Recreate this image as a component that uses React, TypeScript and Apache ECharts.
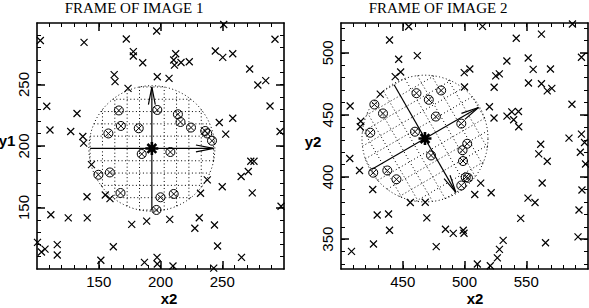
import React, { useEffect, useRef } from "react";
import * as echarts from "echarts";

// ---------------- data ----------------
const xRange1 = [100, 300];
const yRange1 = [100, 300];
const xRange2 = [400, 600];
const yRange2 = [326, 524];
const xMajor1 = [150, 200, 250];
const yMajor1 = [150, 200, 250];
const xMajor2 = [450, 500, 550];
const yMajor2 = [350, 400, 450, 500];
const minorStep = 10;

const titles = ["FRAME OF IMAGE 1", "FRAME OF IMAGE 2"];
const xNames = ["x2", "x2"];
const yNames = ["y1", "y2"];

const centre1 = [193, 198];
const centre2 = [468, 431];
const apertureRadius = 51;
const arrowHalfLength = 50;
const gridStep = 10;
const arrowAngles1 = [0, 90];
const arrowAngles2 = [30, -60];

const crosses1 = [
  [102.7, 285.8], [138.1, 284.3], [172.3, 287], [196.9, 293.5], [251.2, 298.8], [292.7, 286.8],
  [178, 276.7], [178, 273.2], [185.6, 267.7], [212.3, 275], [210.7, 269.9], [211.3, 265.7],
  [216.6, 267.9], [223.3, 268.5], [244.4, 277.2], [250.4, 272], [258.5, 275], [272.2, 262.6],
  [278.8, 249.6], [285.2, 253.1], [162.5, 258], [163.2, 252.3], [197.4, 256.3], [206.9, 255],
  [173.7, 246.9], [107.9, 232.3], [132.4, 226.4], [110.5, 213], [127.3, 211.8], [137.1, 207.7],
  [137.8, 202.3], [247.6, 219.1], [258.5, 222.6], [252.8, 209.6], [288.7, 232.5], [296.8, 211.8],
  [144.1, 184.8], [273.1, 187.6], [275.7, 187.6], [271.1, 179.3], [265.3, 175.2], [237.9, 172.4],
  [250, 166.9], [274.3, 161.9], [232.4, 161.6], [140.5, 158.7], [155.3, 160.2], [159.1, 157.2],
  [297.6, 151], [111.2, 144.1], [125.3, 141.6], [140.7, 141.6], [176.7, 136.3], [188.8, 138.9],
  [207.5, 140.4], [231.4, 141.7], [227.8, 133.1], [243.7, 135.8], [100.4, 121.6], [103.6, 113.8],
  [106.5, 116.1], [116.4, 119.8], [116.4, 111.4], [161.8, 118.1], [151.7, 107.1], [187, 105.4],
  [197.2, 109.5], [197.4, 104.1], [210.1, 102.4], [243.1, 100.7], [246.2, 118.7], [265.6, 109.5],
];

const circled1 = [
  [166.3, 228.9], [197.4, 229.3], [214.1, 225.8], [216.2, 219.5], [167.9, 216.3], [182.4, 214.4],
  [157.8, 210.2], [224.7, 215], [236.2, 212.2], [237.8, 210.2], [241.7, 204.3], [184.8, 193.5],
  [208, 195.1], [149.7, 176.6], [159, 178.5], [167.6, 161.8], [200, 158.3], [210.7, 161],
  [196.7, 148],
];

const crosses2 = [
  [454.8, 521.2], [514.6, 521.3], [587.4, 523.2], [439.3, 510.3], [562.3, 515], [541.9, 511.7],
  [446.7, 494.8], [461.8, 497.8], [594.7, 496.4], [534.3, 493.4], [551.6, 495.8], [555.6, 486.7],
  [569.6, 487], [499.8, 484], [504.3, 487], [525.3, 481.5], [528.2, 483], [551.8, 475.7],
  [562.3, 475.1], [567, 469.4], [570.7, 471.4], [443.9, 480.8], [448.3, 484.6], [500, 472.5],
  [524, 472.3], [431.8, 466.7], [587, 458.6], [407.4, 457.2], [520.2, 456.6], [523.9, 447.5],
  [534.4, 449.1], [538.3, 452.5], [543.7, 452.8], [539.8, 446.1], [543.9, 440.5], [416, 444.9],
  [415.6, 440.5], [584.6, 431.3], [594.7, 434.5], [597.2, 427.8], [561.7, 426.4], [593.8, 420],
  [560.1, 418.7], [567, 412.7], [598, 410.5], [407.1, 414.9], [415, 405.3], [513.1, 395.1],
  [562.9, 395.2], [425.7, 390], [508.3, 386], [521.6, 387.4], [551.4, 383.1], [557.1, 379.5],
  [456.1, 379.5], [468.2, 379.7], [595.1, 389.6], [592.7, 373.5], [429.3, 369.5], [438.5, 370.3],
  [545.5, 366.8], [469.5, 367.2], [439.3, 357.2], [484.6, 358], [490.9, 354.7], [499, 357.2],
  [499.6, 354.8], [591.9, 351.8], [531.3, 349.1], [426.3, 346.1], [565.6, 347.1], [477.1, 344],
  [408.5, 340.2], [528.3, 341.8], [526.6, 335], [510.4, 330], [520.9, 328.6],
];

const circled2 = [
  [461.1, 467.5], [481.1, 469.7], [471.1, 462.2], [427, 458.4], [434, 451.2], [476.8, 448.7],
  [423.7, 435.7], [459.9, 436.5], [497.4, 443], [472.9, 417.4], [502.2, 426.8], [498.4, 421.6],
  [498.8, 412.9], [426.1, 403.5], [437.5, 405.3], [444.9, 398.2], [501, 399.8], [502.8, 399.4],
  [497.4, 393.2],
];

// ---------------- styling ----------------
const FONT_SANS = "'Liberation Sans', Arial, Helvetica, sans-serif";
const FONT_SERIF = "'Liberation Serif', 'Times New Roman', serif";
const GRIDS = [
  { left: 37, top: 23, width: 247, height: 246 },
  { left: 341, top: 23, width: 247, height: 246 },
];

const CROSS_PATH = "path://M0,0L10,10M10,0L0,10";
const CIRCLED_PATH =
  "path://M10,5A5,5,0,1,1,0,5A5,5,0,1,1,10,5ZM1.6,1.6L8.4,8.4M8.4,1.6L1.6,8.4";
const STAR_PATH = "path://M5,0L5,10M0,5L10,5M1.6,1.6L8.4,8.4M8.4,1.6L1.6,8.4";

function minorValues(range: number[]) {
  const out: number[] = [];
  for (let v = Math.ceil(range[0] / minorStep) * minorStep; v <= range[1]; v += minorStep) {
    if (v > range[0] && v < range[1]) out.push(v);
  }
  return out;
}

function axesFor(dim: "x" | "y", gridIndex: number, range: number[], majors: number[]) {
  const minors = minorValues(range);
  const posMain = dim === "x" ? "bottom" : "left";
  const posOpp = dim === "x" ? "top" : "right";
  const base = {
    type: "value",
    gridIndex,
    min: range[0],
    max: range[1],
    splitLine: { show: false },
  };
  const line = { show: true, onZero: false, lineStyle: { color: "#000", width: 1.6 } };
  const majorTick = { show: true, inside: true, length: 8, customValues: majors, lineStyle: { color: "#000", width: 1.5 } };
  const minorTick = { show: true, inside: true, length: 4, customValues: minors, lineStyle: { color: "#000", width: 1 } };
  const label =
    dim === "x"
      ? { show: true, customValues: majors, color: "#000", fontFamily: FONT_SANS, fontSize: 15, margin: 5 }
      : { show: true, customValues: majors, color: "#000", fontFamily: FONT_SANS, fontSize: 15, margin: 6, rotate: 90 };
  return [
    { ...base, position: posMain, axisLine: line, axisTick: majorTick, axisLabel: label },
    { ...base, position: posMain, axisLine: { show: false, onZero: false }, axisTick: minorTick, axisLabel: { show: false } },
    { ...base, position: posOpp, axisLine: line, axisTick: majorTick, axisLabel: { show: false } },
    { ...base, position: posOpp, axisLine: { show: false, onZero: false }, axisTick: minorTick, axisLabel: { show: false } },
  ];
}

function overlaySeries(axisIndex: number, centre: number[], arrowAngles: number[]) {
  return {
    type: "custom",
    xAxisIndex: axisIndex,
    yAxisIndex: axisIndex,
    data: [centre],
    silent: true,
    clip: false,
    z: 1,
    renderItem: (_params: any, api: any) => {
      const cx = api.value(0);
      const cy = api.value(1);
      const R = apertureRadius;
      const P = (x: number, y: number) => api.coord([x, y]);
      const children: any[] = [];
      const dotted = { fill: "none", stroke: "#000", lineWidth: 1, lineDash: [1, 2.5] };
      // aperture circle
      const pts: number[][] = [];
      for (let i = 0; i <= 160; i++) {
        const t = (i / 160) * Math.PI * 2;
        pts.push(P(cx + R * Math.cos(t), cy + R * Math.sin(t)));
      }
      children.push({ type: "polyline", shape: { points: pts }, style: { ...dotted } });
      // rotated grid inside aperture
      const a0 = (arrowAngles[0] * Math.PI) / 180;
      const fams = [a0, a0 + Math.PI / 2];
      for (const a of fams) {
        const ux = Math.cos(a), uy = Math.sin(a);
        const nx = -uy, ny = ux;
        for (let k = -5; k <= 5; k++) {
          if (k === 0) continue;
          const d = k * gridStep;
          if (Math.abs(d) >= R) continue;
          const half = Math.sqrt(R * R - d * d);
          const p1 = P(cx + d * nx - half * ux, cy + d * ny - half * uy);
          const p2 = P(cx + d * nx + half * ux, cy + d * ny + half * uy);
          children.push({ type: "line", shape: { x1: p1[0], y1: p1[1], x2: p2[0], y2: p2[1] }, style: { ...dotted } });
        }
      }
      // arrows
      for (const ang of arrowAngles) {
        const a = (ang * Math.PI) / 180;
        const ux = Math.cos(a), uy = Math.sin(a);
        const tail = P(cx - arrowHalfLength * ux, cy - arrowHalfLength * uy);
        const tip = P(cx + arrowHalfLength * ux, cy + arrowHalfLength * uy);
        children.push({
          type: "line",
          shape: { x1: tail[0], y1: tail[1], x2: tip[0], y2: tip[1] },
          style: { stroke: "#000", lineWidth: 1.2 },
        });
        let dx = tail[0] - tip[0], dy = tail[1] - tip[1];
        const len = Math.hypot(dx, dy);
        dx /= len; dy /= len;
        const th = (11 * Math.PI) / 180;
        const L = 18;
        const arm = (s: number) => [
          tip[0] + L * (dx * Math.cos(s * th) - dy * Math.sin(s * th)),
          tip[1] + L * (dx * Math.sin(s * th) + dy * Math.cos(s * th)),
        ];
        children.push({
          type: "polyline",
          shape: { points: [arm(1), tip, arm(-1)] },
          style: { fill: "none", stroke: "#000", lineWidth: 1.2 },
        });
      }
      return { type: "group", children };
    },
  };
}

function markerSeries(axisIndex: number, data: number[][], symbol: string, size: number, width: number, z: number) {
  return {
    type: "scatter",
    xAxisIndex: axisIndex,
    yAxisIndex: axisIndex,
    data,
    symbol,
    symbolSize: size,
    silent: true,
    z,
    itemStyle: { color: "none", borderColor: "#000", borderWidth: width, opacity: 1 },
  };
}

function buildOption() {
  const xAxis = [...axesFor("x", 0, xRange1, xMajor1), ...axesFor("x", 1, xRange2, xMajor2)];
  const yAxis = [...axesFor("y", 0, yRange1, yMajor1), ...axesFor("y", 1, yRange2, yMajor2)];
  const textStyleTitle = { fill: "#000", fontFamily: FONT_SERIF, fontSize: 15, textAlign: "center", textVerticalAlign: "middle" };
  const textStyleName = { fill: "#000", fontFamily: FONT_SANS, fontSize: 15, fontWeight: "bold", textAlign: "center", textVerticalAlign: "middle" };
  return {
    animation: false,
    backgroundColor: "#fff",
    grid: GRIDS,
    xAxis,
    yAxis,
    series: [
      overlaySeries(0, centre1, arrowAngles1),
      overlaySeries(4, centre2, arrowAngles2),
      markerSeries(0, crosses1, CROSS_PATH, 7, 1.2, 3),
      markerSeries(4, crosses2, CROSS_PATH, 7, 1.2, 3),
      markerSeries(0, circled1, CIRCLED_PATH, 9, 1, 4),
      markerSeries(4, circled2, CIRCLED_PATH, 9, 1, 4),
      markerSeries(0, [centre1], STAR_PATH, 13, 2.6, 5),
      markerSeries(4, [centre2], STAR_PATH, 13, 2.6, 5),
    ],
    graphic: [
      { type: "text", x: 134, y: 8, style: { ...textStyleTitle, text: titles[0] } },
      { type: "text", x: 438, y: 8, style: { ...textStyleTitle, text: titles[1] } },
      { type: "text", x: 169, y: 298.5, style: { ...textStyleName, text: xNames[0] } },
      { type: "text", x: 475, y: 298.5, style: { ...textStyleName, text: xNames[1] } },
      { type: "text", x: 7, y: 140, style: { ...textStyleName, text: yNames[0] } },
      { type: "text", x: 313, y: 141, style: { ...textStyleName, text: yNames[1] } },
    ],
  };
}

export default function App() {
  const ref = useRef<HTMLDivElement>(null);
  useEffect(() => {
    if (!ref.current) return;
    const chart = echarts.init(ref.current, null, { renderer: "svg" });
    chart.setOption(buildOption() as any);
    return () => chart.dispose();
  }, []);
  return (
    <div
      ref={ref}
      style={{ position: "absolute", left: 0, top: 0, width: 589, height: 308, background: "#fff" }}
    />
  );
}
